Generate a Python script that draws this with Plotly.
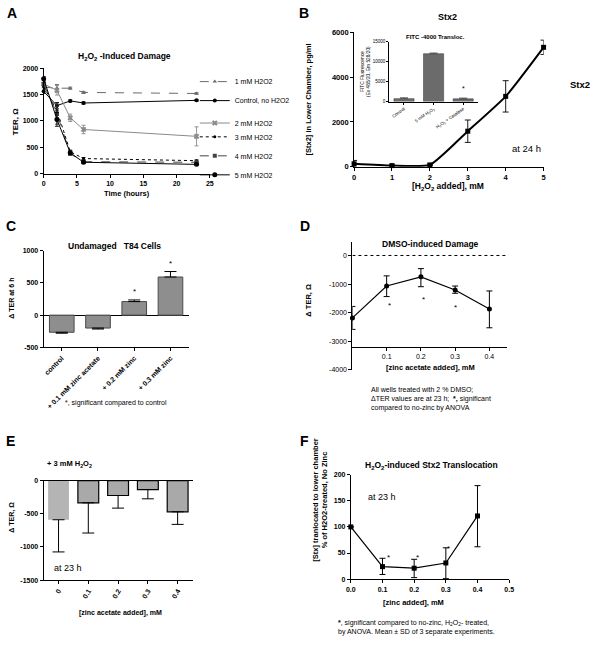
import plotly.graph_objects as go

W, H = 600, 646
FONT = "Liberation Sans, Arial, sans-serif"

# ---- A: H2O2-induced damage (TER over time)
a_time = [0, 2, 4, 6, 23]
a_names = ["1 mM H2O2", "Control, no H2O2", "2 mM H2O2", "3 mM H2O2", "4 mM H2O2", "5 mM H2O2"]
a_1mm = [1640, 1620, 1620, 1540, 1520]
a_1mm_sd = [30, 70, 20, 20, 15]
a_ctrl = [1560, 1290, 1380, 1340, 1390]
a_ctrl_sd = [40, 60, 20, 20, 15]
a_2mm = [1700, 1580, 1060, 840, 710]
a_2mm_sd = [40, 90, 70, 80, 180]
a_3mm = [1650, 1200, 420, 290, 250]
a_3mm_sd = [40, 150, 30, 20, 15]
a_4mm = [1700, 1140, 380, 230, 220]
a_4mm_sd = [40, 200, 30, 20, 15]
a_5mm = [1800, 1030, 400, 220, 180]
a_5mm_sd = [40, 130, 30, 20, 15]

# ---- B: Stx2 in lower chamber vs H2O2
b_dose = [0, 1, 2, 3, 4, 5]
b_stx2 = [130, 50, 80, 1585, 3140, 5330]
b_sd = [150, 30, 30, 500, 700, 320]
# inset: FITC-4000 translocation
inset_cats = ["Control", "5 mM H<sub>2</sub>O<sub>2</sub>", "H<sub>2</sub>O<sub>2</sub> + Catalase"]
inset_vals = [750, 12000, 700]
inset_sd = [250, 200, 200]
inset_ticks = [0, 5000, 10000, 15000]

# ---- C: undamaged T84 cells
c_cats = ["control", "+ 0.1 mM zinc acetate", "+ 0.2 mM zinc", "+ 0.3 mM zinc"]
c_vals = [-265, -200, 210, 590]
c_sd_up = [0, 0, 25, 85]
c_sd_down = [15, 15, 0, 0]

# ---- D: DMSO-induced damage
d_zinc = [0, 0.1, 0.2, 0.3, 0.4]
d_vals = [-2184, -1069, -747, -1207, -1874]
d_sd_up = [402, 356, 287, 138, 633]
d_sd_down = [402, 368, 345, 115, 655]

# ---- E: + 3 mM H2O2
e_cats = ["0", "0.1", "0.2", "0.3", "0.4"]
e_vals = [-590, -335, -225, -135, -470]
e_sd_down = [485, 455, 190, 140, 190]

# ---- F: H2O2-induced Stx2 translocation
f_zinc = [0, 0.1, 0.2, 0.3, 0.4]
f_vals = [100, 24, 21, 31, 121]
f_sd_up = [0, 16, 17, 29, 58]
f_sd_down = [0, 15, 18, 30, 59]


def xd(left, right):
    return [left / W, right / W]


def yd(top, bottom):
    return [1 - bottom / H, 1 - top / H]


def axis(**kw):
    base = dict(
        showline=True, linecolor="black", linewidth=1, ticks="outside", ticklen=3,
        tickwidth=1, tickcolor="black", showgrid=False, zeroline=False,
        tickfont=dict(size=7, family=FONT, color="black", weight="bold"),
    )
    base.update(kw)
    return base


def err(sd, color="black", width=2, up=None):
    if up is None:
        return dict(type="data", array=sd, color=color, thickness=0.9, width=width)
    return dict(type="data", symmetric=False, array=up, arrayminus=sd, color=color, thickness=1, width=width)


fig = go.Figure()

# A traces
a_styles = [
    (a_1mm, a_1mm_sd, "#6a6a6a", "dash", "triangle-up", 4, "legend"),
    (a_ctrl, a_ctrl_sd, "black", "solid", "circle", 4, "legend"),
    (a_2mm, a_2mm_sd, "#8a8a8a", "solid", "x", 5, "legend2"),
    (a_3mm, a_3mm_sd, "black", "dot", "circle", 3, "legend3"),
    (a_4mm, a_4mm_sd, "#444444", "dash", "square", 4, "legend3"),
    (a_5mm, a_5mm_sd, "black", "solid", "circle", 5, "legend3"),
]
for name, (vals, sd, col, dash, sym, size, leg) in zip(a_names, a_styles):
    fig.add_trace(go.Scatter(
        x=a_time, y=vals, name=name, mode="lines+markers", legend=leg,
        line=dict(color=col, dash=dash, width=1), marker=dict(symbol=sym, size=size, color=col),
        error_y=err(sd, color=col), cliponaxis=False, xaxis="x", yaxis="y",
    ))

# B traces
fig.add_trace(go.Scatter(
    x=b_dose, y=b_stx2, mode="lines+markers", showlegend=False,
    line=dict(color="black", width=2, shape="spline", smoothing=0.5),
    marker=dict(symbol="square", size=5, color="black"),
    error_y=err(b_sd, width=3), cliponaxis=False, xaxis="x2", yaxis="y2",
))
fig.add_trace(go.Bar(
    x=inset_cats, y=inset_vals, showlegend=False, width=0.68,
    marker=dict(color="#6b6b6b", line=dict(color="#444444", width=0.6)),
    error_y=dict(type="data", symmetric=False, array=inset_sd, arrayminus=[0, 0, 0], color="#444444", thickness=0.7, width=4),
    xaxis="x3", yaxis="y3",
))

# C
fig.add_trace(go.Bar(
    x=c_cats, y=c_vals, showlegend=False, width=0.68,
    marker=dict(color="#8e8e8e", line=dict(color="#4a4a4a", width=1)),
    error_y=err(c_sd_down, up=c_sd_up, width=6), xaxis="x4", yaxis="y4",
))

# D
fig.add_trace(go.Scatter(
    x=d_zinc, y=d_vals, mode="lines+markers", showlegend=False,
    line=dict(color="black", width=1.2), marker=dict(symbol="circle", size=5, color="black"),
    error_y=err(d_sd_down, up=d_sd_up, width=3), cliponaxis=False, xaxis="x5", yaxis="y5",
))

# E
fig.add_trace(go.Bar(
    x=e_cats, y=e_vals, showlegend=False, width=0.7,
    marker=dict(color=["#b4b4b4", "#a9a9a9", "#a9a9a9", "#a9a9a9", "#a9a9a9"],
                line=dict(color="black", width=[0, 1.2, 1.2, 1.2, 1.2])),
    error_y=err(e_sd_down, up=[0, 0, 0, 0, 0], width=6), xaxis="x6", yaxis="y6",
))

# F
fig.add_trace(go.Scatter(
    x=f_zinc, y=f_vals, mode="lines+markers", showlegend=False,
    line=dict(color="black", width=1.2), marker=dict(symbol="square", size=5, color="black"),
    error_y=err(f_sd_down, up=f_sd_up, width=3), cliponaxis=False, xaxis="x7", yaxis="y7",
))

ann = []


def note(text, x, y, size=7, bold=False, angle=0, xanchor="center", align="center", **kw):
    ann.append(dict(
        text=text, x=x / W, y=1 - y / H, xref="paper", yref="paper", showarrow=False,
        font=dict(size=size, family=FONT, color="black", weight="bold" if bold else "normal"),
        textangle=angle, xanchor=xanchor, yanchor="middle", align=align, **kw))


def star(x, y, xref, yref, size=8):
    ann.append(dict(text="*", x=x, y=y, xref=xref, yref=yref, showarrow=False,
                    font=dict(size=size, family=FONT, color="black")))


# panel letters
for letter, x, y in [("A", 7, 9), ("B", 304, 9), ("C", 6, 225), ("D", 305, 225), ("E", 6, 443), ("F", 305, 443)]:
    note(letter, x, y, size=14, bold=True)

# A texts
note("H<sub>2</sub>O<sub>2</sub> -Induced Damage", 122, 53, size=8.5, bold=True)
note("TER, \u03a9", 11, 119, size=8, bold=True, angle=-90)
note("Time (hours)", 124, 192, size=7.5, bold=True)

# B texts
note("Stx2", 450, 13, size=9, bold=True)
note("Stx2", 585, 82, size=9.5, bold=True)
note("[Stx2] in Lower Chamber, pg/ml", 309, 97, size=7.5, bold=True, angle=-90)
note("[H<sub>2</sub>O<sub>2</sub> added], mM", 451, 185, size=8.5, bold=True)
note("at 24 h", 530, 147, size=9.5)
note("FITC -4000 Transloc.", 438, 33, size=6, bold=True)
note("FITC Fluorescence<br>(Ex 485/20, Em 528/20)", 366, 68, size=4.8, angle=-90)
star(2, 3300, "x3", "y3", size=7)

# C texts
note("Undamaged   T84 Cells", 111, 245, size=8.5, bold=True)
note("\u0394 TER at 6 h", 7, 298, size=7, bold=True, angle=-90)
note("*, significant compared to control", 113, 405, size=7)
star("+ 0.2 mM zinc", 360, "x4", "y4")
star("+ 0.3 mM zinc", 800, "x4", "y4")

# D texts
note("DMSO-induced Damage", 433, 243, size=8.5, bold=True)
note("\u0394 TER, \u03a9", 309, 300, size=7.5, bold=True, angle=-90)
note("[zinc acetate added], mM", 433, 369, size=7.5, bold=True)
note("All wells treated with 2 % DMSO;<br>\u0394TER values are at 23 h;  <b>*,</b> significant<br>compared to no-zinc by ANOVA",
     370, 401, size=7, xanchor="left", align="left")
for zx, zy in [(0.107, -1750), (0.207, -1540), (0.3, -1830)]:
    star(zx, zy, "x5", "y5")

# E texts
note("+ 3 mM H<sub>2</sub>O<sub>2</sub>", 66, 467, size=7.5, bold=True)
note("\u0394 TER, \u03a9", 7, 520, size=7, bold=True, angle=-90)
note("at 23 h", 64, 572, size=9)
note("[zinc acetate added], mM", 117, 618, size=7, bold=True)

# F texts
note("H<sub>2</sub>O<sub>2</sub>-induced Stx2 Translocation", 434, 468, size=8.5, bold=True)
note("[Stx] tranlocated to lower chamber<br>% of H2O2-treated, No Zinc", 321, 503, size=7.5, bold=True, angle=-90)
note("at 23 h", 383, 500, size=9)
note("[zinc added], mM", 415, 607, size=7.5, bold=True)
note("<b>*</b>, significant compared to no-zinc, H<sub>2</sub>O<sub>2</sub>- treated,<br>by ANOVA. Mean \u00b1 SD of 3 separate experiments.",
     337, 632, size=7, xanchor="left", align="left")
for zx, zy in [(0.119, 42), (0.209, 42), (0.307, 59)]:
    star(zx, zy, "x7", "y7")

legend_style = dict(xanchor="left", yanchor="top", bgcolor="rgba(0,0,0,0)", itemwidth=30,
                    font=dict(size=7, family=FONT, color="black"), tracegroupgap=0)

fig.update_layout(
    width=W, height=H, margin=dict(l=0, r=0, t=0, b=0),
    paper_bgcolor="white", plot_bgcolor="rgba(0,0,0,0)",
    font=dict(family=FONT, color="black"),
    annotations=ann,
    legend=dict(x=193 / W, y=1 - 64 / H, **legend_style),
    legend2=dict(x=193 / W, y=1 - 106 / H, **legend_style),
    legend3=dict(x=193 / W, y=1 - 120 / H, **legend_style),
    shapes=[dict(type="line", xref="x5", yref="y5", x0=0, x1=0.45, y0=0, y1=0,
                 line=dict(color="black", width=1, dash="dot"))],
    xaxis=axis(domain=xd(39.3, 208.3), range=[0, 25], tickvals=[0, 5, 10, 15, 20, 25], anchor="y"),
    yaxis=axis(domain=yd(65, 172.3), range=[0, 2000], tickvals=[0, 500, 1000, 1500, 2000], anchor="x"),
    xaxis2=axis(domain=xd(355, 547.7), range=[0, 5], tickvals=[0, 1, 2, 3, 4, 5], anchor="y2",
                tickfont=dict(size=7.5, family=FONT, color="black", weight="bold")),
    yaxis2=axis(domain=yd(28.7, 165), range=[0, 6000], tickvals=[0, 2000, 4000, 6000], anchor="x2",
                tickfont=dict(size=7.5, family=FONT, color="black", weight="bold")),
    xaxis3=axis(domain=xd(390.7, 481), range=[-0.5, 2.5], type="category", anchor="y3", tickangle=-35,
                ticklen=2, tickfont=dict(size=4.5, family=FONT, color="black")),
    yaxis3=axis(domain=yd(38.3, 99), range=[0, 15000], tickvals=inset_ticks,
                ticktext=[str(v) for v in inset_ticks], anchor="x3",
                ticklen=2, tickfont=dict(size=4.5, family=FONT, color="black")),
    xaxis4=axis(domain=xd(39.3, 186.7), range=[-0.5, 3.5], type="category", anchor="y4", tickangle=-45),
    yaxis4=axis(domain=yd(250, 348.3), range=[-500, 1000], tickvals=[-500, 0, 500, 1000],
                ticktext=["-500", "0", "500", "1000"], anchor="x4",
                zeroline=True, zerolinecolor="black", zerolinewidth=1),
    xaxis5=axis(domain=xd(353.3, 510), range=[0, 0.45], tickvals=[0.1, 0.2, 0.3, 0.4], tickformat=".1f",
                anchor="free", position=1 - 347.7 / H,
                tickfont=dict(size=7, family=FONT, color="black")),
    yaxis5=axis(domain=yd(241.7, 371), range=[-4000, 460], tickvals=[0, -1000, -2000, -3000, -4000],
                ticktext=["0", "-1000", "-2000", "-3000", "-4000"], anchor="x5",
                tickfont=dict(size=7, family=FONT, color="black")),
    xaxis6=axis(domain=xd(39.3, 190.7), range=[-0.5, 4.5], type="category", anchor="y6", tickangle=-60,
                mirror=True),
    yaxis6=axis(domain=yd(483.3, 584.3), range=[-1500, 0], tickvals=[-1500, -1000, -500, 0],
                ticktext=["-1500", "-1000", "-500", "0"], anchor="x6"),
    xaxis7=axis(domain=xd(351.7, 512.7), range=[0, 0.5], tickvals=[0, 0.1, 0.2, 0.3, 0.4, 0.5],
                tickformat=".1f", anchor="y7"),
    yaxis7=axis(domain=yd(477.3, 583.3), range=[0, 200], tickvals=[0, 50, 100, 150, 200], anchor="x7"),
)

# the page body has a default 8px margin; drop it so the figure fills the window exactly
fig.write_html("out.html", config={"displayModeBar": False},
               post_script="document.body.style.margin = '0';")
